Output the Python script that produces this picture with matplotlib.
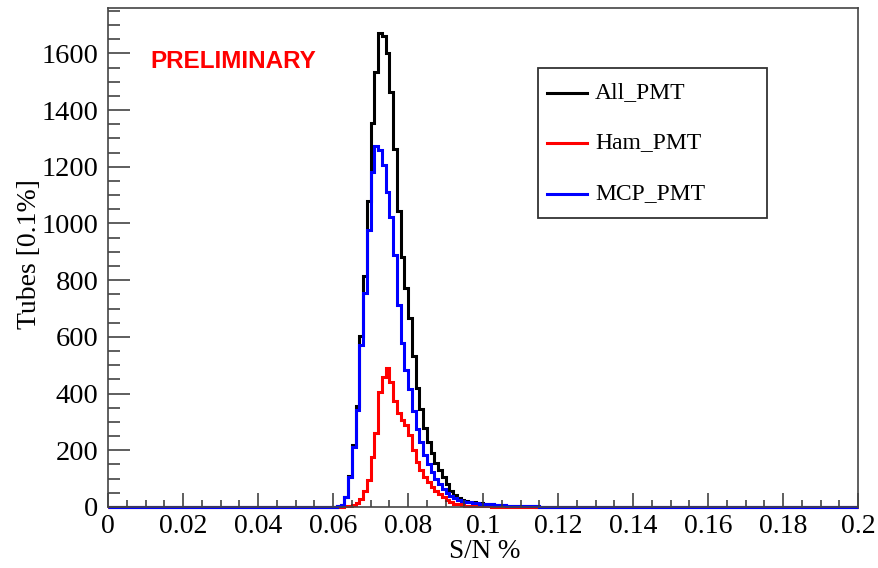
import numpy as np
import matplotlib
matplotlib.use("Agg")
from matplotlib import pyplot as plt
from matplotlib.patches import Rectangle
from matplotlib.lines import Line2D

# histogram binning: 200 bins of 0.001 (0.1 %) from 0 to 0.2
nbins = 200
xlo = 0.0
xhi = 0.2
first_bin = 61   # bin index of the first non-empty value below

# bin contents, starting at bin 61 (0.061)
all_pmt = [2, 8, 37, 109, 218, 355, 603, 815, 1078, 1355, 1534, 1673, 1663,
           1600, 1464, 1264, 1045, 883, 774, 668, 531, 421, 345, 280, 230,
           190, 155, 130, 105, 80, 58, 42, 32, 26, 21, 18, 16, 14, 13, 12,
           10, 9, 8, 7, 6, 5, 4, 4, 3, 3, 2, 2, 2, 1, 1, 1, 1, 1]
ham_pmt = [0, 1, 2, 3, 7, 13, 28, 57, 95, 177, 262, 404, 459, 490, 440, 374,
           330, 307, 289, 254, 200, 160, 130, 105, 88, 72, 58, 45, 34, 25, 17,
           12, 9, 7, 5, 4, 3, 3, 2, 2, 2, 1, 1, 1, 1]
mcp_pmt = [2, 7, 35, 106, 211, 342, 571, 754, 976, 1182, 1272, 1258, 1205,
           1111, 1023, 888, 712, 577, 483, 415, 340, 275, 228, 185, 150, 123,
           100, 80, 62, 48, 38, 30, 25, 21, 18, 16, 14, 13, 12, 11, 10, 9, 8,
           7, 6, 5, 5, 4, 4, 3, 3, 2, 2, 2, 1, 1, 1, 1]

series_names = ["All_PMT", "Ham_PMT", "MCP_PMT"]
series_colors = ["#000000", "#ff0000", "#0000ff"]

xticks = [0, 0.02, 0.04, 0.06, 0.08, 0.1, 0.12, 0.14, 0.16, 0.18, 0.2]
xtick_labels = ["0", "0.02", "0.04", "0.06", "0.08", "0.1", "0.12", "0.14",
                "0.16", "0.18", "0.2"]
yticks = [0, 200, 400, 600, 800, 1000, 1200, 1400, 1600]
ymax = 1760


def fill_bins(vals):
    h = np.zeros(nbins)
    h[first_bin:first_bin + len(vals)] = vals
    return h


edges = np.linspace(xlo, xhi, nbins + 1)

W, H = 879, 568
plt.rcParams['font.family'] = ['Liberation Serif', 'DejaVu Serif']
fig = plt.figure(figsize=(W / 100, H / 100), dpi=100)
ax = fig.add_axes([108 / W, 61 / H, 750 / W, 499 / H])

for vals, name, col in zip([all_pmt, ham_pmt, mcp_pmt], series_names, series_colors):
    ax.stairs(fill_bins(vals), edges, color=col, lw=2.2, label=name,
              baseline=None, clip_on=False)

ax.set_xlim(xlo, xhi)
ax.set_ylim(0, ymax)

ax.set_xticks(xticks)
ax.set_xticklabels(xtick_labels)
ax.set_xticks(np.arange(0, 0.2001, 0.005), minor=True)
ax.set_yticks(yticks)
ax.set_yticks(np.arange(0, ymax, 50), minor=True)

ax.tick_params(axis='x', which='major', direction='in', length=10, width=1.1,
               labelsize=20, pad=5, color='#333333')
ax.tick_params(axis='x', which='minor', direction='in', length=5, width=1.1,
               color='#333333')
ax.tick_params(axis='y', which='major', direction='in', length=16, width=1.1,
               labelsize=20.5, pad=7, color='#333333')
ax.tick_params(axis='y', which='minor', direction='in', length=8.5, width=1.1,
               color='#333333')
for s in ax.spines.values():
    s.set_linewidth(1.2)
    s.set_color('#444444')

fig.text(30 / W, 1 - 254 / H, "Tubes [0.1%]", rotation=90, ha='center',
         va='center', fontsize=20)
fig.text(485 / W, 1 - 551 / H, "S/N %", ha='center', va='center', fontsize=19.5)

fig.text(150 / W, 1 - 62 / H, "PRELIMINARY", color='#ff0000', fontsize=17.5,
         fontweight='bold', family='Liberation Sans', ha='left', va='center')

# legend box drawn by hand (ROOT style), figure pixel positions
box_x0, box_y0, box_x1, box_y1 = 538, 68, 767, 218
fig.add_artist(Rectangle((box_x0 / W, 1 - box_y1 / H), (box_x1 - box_x0) / W,
                         (box_y1 - box_y0) / H, transform=fig.transFigure,
                         fill=False, edgecolor='#333333', lw=1.3))
row_y = [93, 143, 194]
for name, col, ry in zip(series_names, series_colors, row_y):
    fig.add_artist(Line2D([547 / W, 587 / W], [1 - ry / H, 1 - ry / H],
                          transform=fig.transFigure, color=col, lw=2.2))
    fig.text(595 / W, 1 - ry / H, name, ha='left', va='center', fontsize=17)

fig.savefig("out.png", dpi=100)
